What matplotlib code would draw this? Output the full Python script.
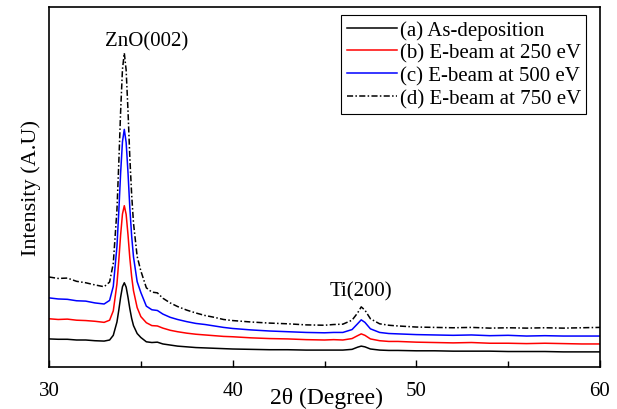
import matplotlib
matplotlib.use("Agg")
import matplotlib.pyplot as plt
from matplotlib.ticker import MultipleLocator

plt.rcParams['font.family'] = ['Liberation Serif', 'DejaVu Serif']

two_theta = [30, 30.5, 31, 31.5, 32, 32.5, 33, 33.3, 33.5, 33.7, 33.8, 33.9, 34.0, 34.1,
             34.2, 34.3, 34.4, 34.5, 34.6, 34.8, 35.0, 35.3, 35.6, 35.9, 36.2, 36.6, 37, 37.5,
             38, 38.5, 39, 39.5, 40, 41, 42, 43, 44, 45, 45.5, 46, 46.5, 46.8, 47.0, 47.2,
             47.5, 48, 48.5, 49, 50, 51, 52, 53, 54, 55, 56, 57, 58, 59, 60]

as_deposition = [7.8, 7.7, 7.7, 7.5, 7.5, 7.3, 7.2, 7.5, 8.8, 12.5, 15.8, 19.4, 22.3, 23.4,
                 22.2, 19.4, 16.2, 13.5, 11.5, 9.3, 8.2, 7.0, 6.8, 6.9, 6.4, 6.1, 5.8, 5.6,
                 5.4, 5.3, 5.2, 5.1, 5.0, 4.9, 4.8, 4.8, 4.7, 4.7, 4.7, 4.7, 4.9, 5.5, 5.8, 5.6,
                 5.0, 4.7, 4.6, 4.6, 4.5, 4.5, 4.4, 4.4, 4.4, 4.3, 4.3, 4.3, 4.2, 4.2, 4.2]

ebeam_250 = [13.4, 13.2, 13.3, 13.0, 12.9, 12.7, 12.4, 13.0, 15.6, 23.1, 29.6, 36.7, 42.5, 44.8,
             42.4, 36.8, 30.3, 25.1, 21.2, 16.5, 14.0, 12.3, 11.5, 11.4, 10.8, 10.2, 9.8, 9.4,
             9.1, 8.9, 8.7, 8.5, 8.4, 8.1, 7.9, 7.8, 7.6, 7.5, 7.6, 7.5, 7.9, 8.7, 9.2, 8.8,
             7.8, 7.3, 7.1, 7.1, 6.9, 6.8, 6.7, 6.8, 6.6, 6.6, 6.5, 6.6, 6.5, 6.4, 6.4]

ebeam_500 = [19.2, 18.9, 18.8, 18.4, 18.3, 17.8, 17.5, 18.5, 22.4, 33.5, 43.2, 53.9, 62.6, 66.0,
             62.4, 54.1, 44.3, 36.4, 30.6, 23.7, 20.7, 16.9, 15.9, 15.7, 14.7, 13.8, 13.2, 12.6,
             12.1, 11.8, 11.4, 11.0, 10.7, 10.3, 10.0, 9.8, 9.6, 9.5, 9.6, 9.6, 10.4, 12.0, 13.1, 12.4,
             10.6, 9.6, 9.3, 9.2, 9.0, 8.9, 8.8, 8.9, 8.7, 8.8, 8.6, 8.7, 8.6, 8.6, 8.6]

ebeam_750 = [25.0, 24.6, 24.7, 23.8, 23.4, 22.8, 22.3, 23.6, 28.8, 43.7, 56.7, 71.0, 82.7, 87.2,
             82.5, 71.3, 58.3, 47.9, 40.0, 30.7, 26.7, 22.0, 20.8, 20.6, 19.1, 17.8, 16.8, 15.8,
             15.0, 14.3, 13.8, 13.2, 12.9, 12.5, 12.2, 12.0, 11.7, 11.6, 11.8, 11.9, 13.0, 15.0, 16.7, 15.8,
             13.4, 12.0, 11.6, 11.4, 11.1, 11.0, 10.9, 11.0, 10.8, 10.9, 10.8, 10.9, 10.8, 10.9, 11.0]

labels = ["(a) As-deposition", "(b) E-beam at 250 eV",
          "(c) E-beam at 500 eV", "(d) E-beam at 750 eV"]
x_ticks = [30, 40, 50, 60]

fig = plt.figure(figsize=(6.17, 4.10), dpi=100)
ax = fig.add_axes([49/617, 42/410, 551/617, 360/410])

ax.plot(two_theta, as_deposition, color='black', lw=1.1, label=labels[0])
ax.plot(two_theta, ebeam_250, color='red', lw=1.1, label=labels[1])
ax.plot(two_theta, ebeam_500, color='blue', lw=1.1, label=labels[2])
ax.plot(two_theta, ebeam_750, color='black', lw=1.1, linestyle=(0, (4, 1.5, 1, 1.5)),
        label=labels[3])

ax.set_xlim(30, 60)
ax.set_ylim(0, 100)
ax.set_xticks(x_ticks)
ax.set_xticklabels([str(t) for t in x_ticks])
ax.xaxis.set_minor_locator(MultipleLocator(5))
ax.set_yticks([])
ax.tick_params(axis='x', which='major', direction='in', length=5, width=1, labelsize=15, pad=10)
ax.tick_params(axis='x', which='minor', direction='in', length=4, width=1)
for s in ax.spines.values():
    s.set_linewidth(1.2)

ax.set_xlabel("2θ (Degree)", fontsize=17)
ax.xaxis.set_label_coords(0.503, -0.055)
ax.set_ylabel("Intensity (A.U)", fontsize=16, labelpad=6)

ax.text(35.3, 90.5, "ZnO(002)", fontsize=15, ha='center', va='center')
ax.text(47.0, 21.1, "Ti(200)", fontsize=15, ha='center', va='center')

leg = ax.legend(loc='upper right', bbox_to_anchor=(0.975, 0.978), fontsize=15,
                frameon=True, fancybox=False, edgecolor='black', framealpha=1,
                borderaxespad=0, handlelength=2.4, handletextpad=0.15,
                labelspacing=0.16, borderpad=0.25)
leg.get_frame().set_linewidth(0.8)

fig.savefig("out.png", dpi=100)
